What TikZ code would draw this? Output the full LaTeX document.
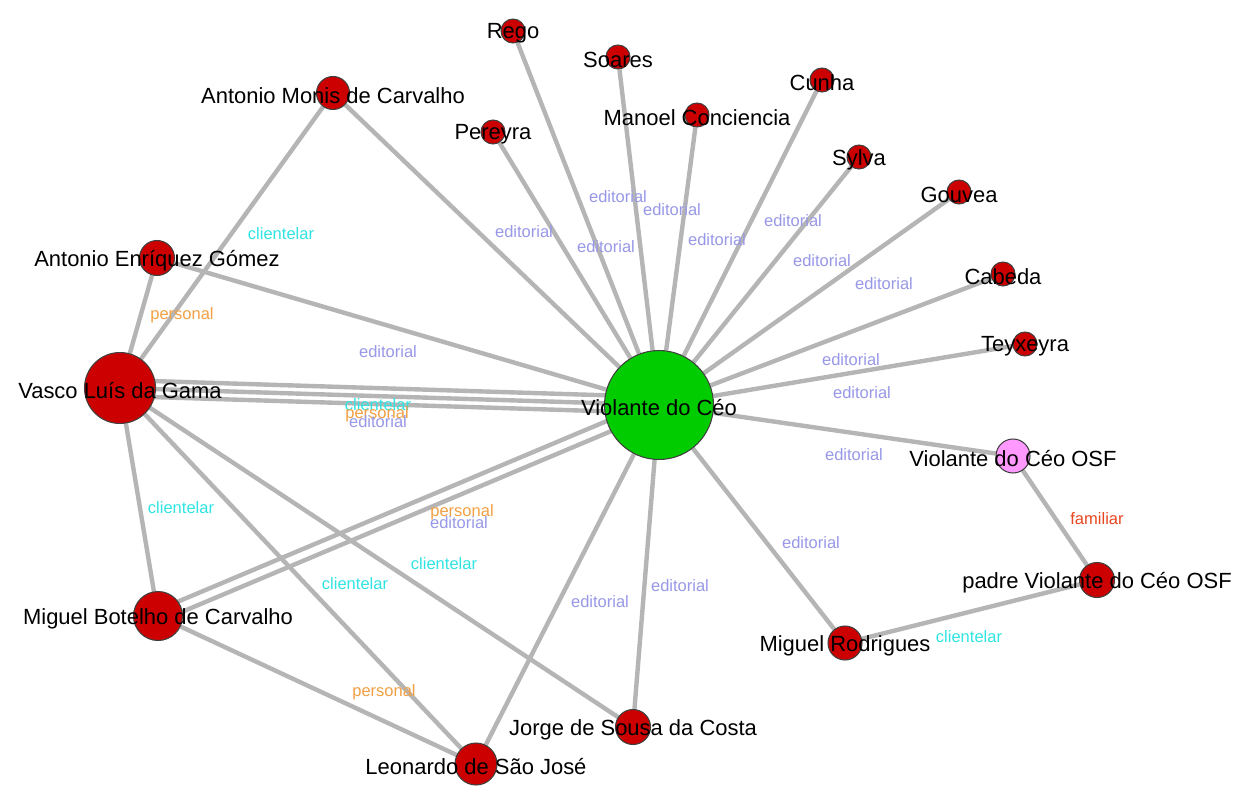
\documentclass[tikz,border=0pt]{standalone}
\usepackage{fontspec}
\setmainfont{Liberation Sans}
\usetikzlibrary{calc, backgrounds}

\definecolor{vermelho}{HTML}{CC0000}
\definecolor{verde}{HTML}{00CC00}
\definecolor{rosa}{HTML}{FF99FF}
\definecolor{cinza}{HTML}{B5B5B5}
\definecolor{coreditorial}{HTML}{9898E8}
\definecolor{corclientelar}{HTML}{30E4E4}
\definecolor{corpersonal}{HTML}{F2A043}
\definecolor{corfamiliar}{HTML}{E8461E}

\tikzset{
  pessoa/.style={circle, draw=black!75, line width=0.6pt, fill=vermelho, inner sep=0pt},
  liga/.style={draw=cinza, line width=2.5pt},
  every label/.style={font=\fontsize{12.5}{15}\selectfont, inner sep=0pt, text=black, yshift=-1.4pt},
  rotulo/.style={font=\fontsize{9.4}{11}\selectfont, inner sep=0pt},
  txteditorial/.style={rotulo, text=coreditorial},
  txtclientelar/.style={rotulo, text=corclientelar},
  txtpersonal/.style={rotulo, text=corpersonal},
  txtfamiliar/.style={rotulo, text=corfamiliar}
}

\begin{document}
\begin{tikzpicture}[x=0.02cm, y=-0.02cm]
    \useasboundingbox (0,0) rectangle (1250,800);

    % Violante do Céo
    \node[pessoa, fill=verde, minimum size=2.18cm, label=center:Violante do Céo] (ceo) at (659,405) {};

    % Nodi grandi
    \node[pessoa, minimum size=1.42cm, label=center:Vasco Luís da Gama] (gama) at (120,388) {};
    \node[pessoa, minimum size=0.98cm, label=center:Miguel Botelho de Carvalho] (botelho) at (158,616) {};
    \node[pessoa, minimum size=0.84cm, label=center:Leonardo de São José] (leonardo) at (476,764) {};

    % Nodi medi
    \node[pessoa, minimum size=0.66cm, label=center:Antonio Monis de Carvalho] (monis) at (333,93) {};
    \node[pessoa, minimum size=0.7cm, label=center:Antonio Enríquez Gómez] (enriquez) at (157,258) {};
    \node[pessoa, minimum size=0.7cm, label=center:Jorge de Sousa da Costa] (jorge) at (633,727) {};
    \node[pessoa, minimum size=0.68cm, label=center:Miguel Rodrigues] (rodrigues) at (845,643) {};
    \node[pessoa, minimum size=0.7cm, label=center:padre Violante do Céo OSF] (padre) at (1097,580) {};
    \node[pessoa, fill=rosa, minimum size=0.68cm, label=center:Violante do Céo OSF] (osf) at (1013,456) {};

    % Nodi piccoli
    \node[pessoa, minimum size=0.48cm, label=center:Rego] (rego) at (513,31) {};
    \node[pessoa, minimum size=0.48cm, label=center:Soares] (soares) at (618,57) {};
    \node[pessoa, minimum size=0.48cm, label=center:Pereyra] (pereyra) at (493,132) {};
    \node[pessoa, minimum size=0.48cm, label=center:Manoel Conciencia] (manoel) at (697,115) {};
    \node[pessoa, minimum size=0.48cm, label=center:Cunha] (cunha) at (822,80) {};
    \node[pessoa, minimum size=0.48cm, label=center:Sylva] (sylva) at (859,157) {};
    \node[pessoa, minimum size=0.48cm, label=center:Gouvea] (gouvea) at (959,192) {};
    \node[pessoa, minimum size=0.48cm, label=center:Cabeda] (cabeda) at (1003,274) {};
    \node[pessoa, minimum size=0.48cm, label=center:Teyxeyra] (teyxeyra) at (1025,344) {};

    % Archi
    \begin{scope}[on background layer]
        \fill[white] (0,0) rectangle (1250,800);
        \draw[liga] (ceo) -- (rego);
        \draw[liga] (ceo) -- (soares);
        \draw[liga] (ceo) -- (pereyra);
        \draw[liga] (ceo) -- (manoel);
        \draw[liga] (ceo) -- (cunha);
        \draw[liga] (ceo) -- (sylva);
        \draw[liga] (ceo) -- (gouvea);
        \draw[liga] (ceo) -- (cabeda);
        \draw[liga] (ceo) -- (teyxeyra);
        \draw[liga] (ceo) -- (osf);
        \draw[liga] (ceo) -- (rodrigues);
        \draw[liga] (ceo) -- (jorge);
        \draw[liga] (ceo) -- (leonardo);
        \draw[liga] (ceo) -- (monis);
        \draw[liga] (ceo) -- (enriquez);
        \draw[liga] ($(gama.center)!0.16cm!90:(ceo.center)$) -- ($(ceo.center)!0.16cm!-90:(gama.center)$);
        \draw[liga] (gama) -- (ceo);
        \draw[liga] ($(gama.center)!0.16cm!-90:(ceo.center)$) -- ($(ceo.center)!0.16cm!90:(gama.center)$);
        \draw[liga] ($(botelho.center)!0.11cm!90:(ceo.center)$) -- ($(ceo.center)!0.11cm!-90:(botelho.center)$);
        \draw[liga] ($(botelho.center)!0.11cm!-90:(ceo.center)$) -- ($(ceo.center)!0.11cm!90:(botelho.center)$);
        \draw[liga] (gama) -- (monis);
        \draw[liga] (gama) -- (enriquez);
        \draw[liga] (gama) -- (botelho);
        \draw[liga] (gama) -- (leonardo);
        \draw[liga] (gama) -- (jorge);
        \draw[liga] (botelho) -- (leonardo);
        \draw[liga] (osf) -- (padre);
        \draw[liga] (padre) -- (rodrigues);
    \end{scope}

    % Etichette degli archi
    \node[txteditorial] at (618,197) {editorial};
    \node[txteditorial] at (672,210) {editorial};
    \node[txteditorial] at (606,247) {editorial};
    \node[txteditorial] at (524,232) {editorial};
    \node[txteditorial] at (717,240) {editorial};
    \node[txteditorial] at (793,221) {editorial};
    \node[txteditorial] at (822,261) {editorial};
    \node[txteditorial] at (884,284) {editorial};
    \node[txteditorial] at (851,360) {editorial};
    \node[txteditorial] at (862,393) {editorial};
    \node[txteditorial] at (854,455) {editorial};
    \node[txteditorial] at (811,543) {editorial};
    \node[txteditorial] at (680,586) {editorial};
    \node[txteditorial] at (600,602) {editorial};
    \node[txteditorial] at (388,352) {editorial};
    \node[txtclientelar] at (378,405) {clientelar};
    \node[txtpersonal] at (377,414) {personal};
    \node[txteditorial] at (378,422) {editorial};
    \node[txtpersonal] at (462,512) {personal};
    \node[txteditorial] at (459,523) {editorial};
    \node[txtclientelar] at (281,234) {clientelar};
    \node[txtpersonal] at (182,315) {personal};
    \node[txtclientelar] at (181,508) {clientelar};
    \node[txtclientelar] at (355,584) {clientelar};
    \node[txtclientelar] at (444,564) {clientelar};
    \node[txtpersonal] at (384,692) {personal};
    \node[txtfamiliar] at (1097,519) {familiar};
    \node[txtclientelar] at (969,637) {clientelar};
\end{tikzpicture}
\end{document}
